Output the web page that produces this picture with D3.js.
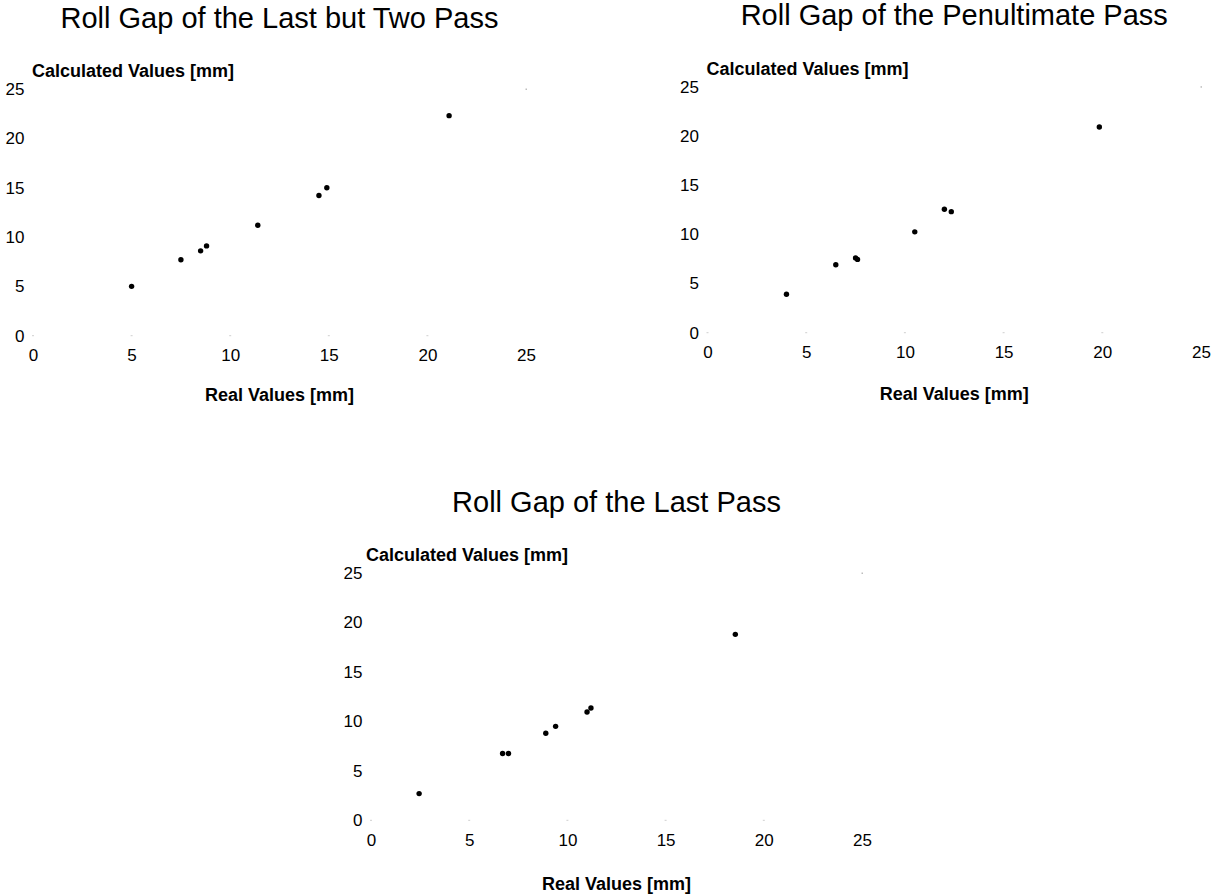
<!DOCTYPE html>
<html>
<head>
<meta charset="utf-8">
<title>Roll Gap</title>
<script src="https://cdn.jsdelivr.net/npm/d3@7"></script>
<style>
	body { margin: 0; background: #ffffff; }
	svg text { font-family: "Liberation Sans", Arial, Helvetica, sans-serif; fill: #000; }
</style>
</head>
<body>
<main></main>
<script>

// DATA
const titles = ["Roll Gap of the Last but Two Pass", "Roll Gap of the Penultimate Pass", "Roll Gap of the Last Pass"];
const xAxisLabel = "Real Values [mm]";
const yAxisLabel = "Calculated Values [mm]";
const tickValues = [0, 5, 10, 15, 20, 25];
const markValues = [0, 5, 10, 15, 20];

// last but two pass
const realLastButTwo = [5.0, 7.5, 8.5, 8.8, 11.4, 14.5, 14.9, 21.1];
const calcLastButTwo = [5.0, 7.7, 8.6, 9.1, 11.2, 14.2, 15.0, 22.3];
// penultimate pass
const realPenultimate = [4.0, 6.5, 7.5, 7.6, 10.5, 12.0, 12.35, 19.85];
const calcPenultimate = [3.9, 6.9, 7.6, 7.45, 10.25, 12.55, 12.3, 20.9];
// last pass
const realLast = [2.45, 6.7, 7.0, 8.9, 9.4, 11.0, 11.2, 18.55];
const calcLast = [2.7, 6.75, 6.75, 8.8, 9.5, 10.95, 11.35, 18.8];


// LAYOUT: pixel frame of each panel (value 0 and 25 on each axis)
const panels = [
	{ title: titles[0], real: realLastButTwo, calc: calcLastButTwo,
	  left: 33, right: 526, bottom: 335.7, top: 89, titleY: 28, xTickGap: 19, xLabelY: 400.5, yLabelDx: -1 },
	{ title: titles[1], real: realPenultimate, calc: calcPenultimate,
	  left: 707.5, right: 1201, bottom: 332.7, top: 86.7, titleY: 25, xTickGap: 19, xLabelY: 399.5, yLabelDx: -1 },
	{ title: titles[2], real: realLast, calc: calcLast,
	  left: 371, right: 862, bottom: 820.3, top: 573, titleY: 512, xTickGap: 20, xLabelY: 889.5, yLabelDx: -5 }
];


// DRAW one scatter panel
function drawPanel(svg, p) {
	const xScale = d3.scaleLinear().domain([0, 25]).range([p.left, p.right]);
	const yScale = d3.scaleLinear().domain([0, 25]).range([p.bottom, p.top]);
	const g = svg.append("g");

	// title
	g.append("text")
		.attr("x", (p.left + p.right) / 2)
		.attr("y", p.titleY)
		.attr("text-anchor", "middle")
		.style("font-size", "29px")
		.text(p.title);

	// faint marks along the base line and the top right corner
	g.selectAll("rect.mark")
		.data(markValues)
		.enter()
		.append("rect")
			.attr("class", "mark")
			.attr("x", d => xScale(d) - 1)
			.attr("y", yScale(0) - 0.5)
			.attr("width", 2)
			.attr("height", 1)
			.attr("fill", "#cfcfcf");
	g.append("rect")
		.attr("x", xScale(25) - 0.5)
		.attr("y", yScale(25) - 0.5)
		.attr("width", 1.5)
		.attr("height", 1.5)
		.attr("fill", "#bdbdbd");

	// axes (labels only)
	const xAxis = d3.axisBottom(xScale).tickValues(tickValues).tickSize(0).tickPadding(p.xTickGap - 6);
	g.append("g")
		.attr("transform", `translate(0, ${p.bottom})`)
		.call(xAxis)
		.call(a => a.select(".domain").remove())
		.selectAll("text")
			.style("font-size", "17px")
			.style("font-family", "'Liberation Sans', Arial, sans-serif")
			.attr("fill", "#000");
	const yAxis = d3.axisLeft(yScale).tickValues(tickValues).tickSize(0).tickPadding(8.5);
	g.append("g")
		.attr("transform", `translate(${p.left}, 0)`)
		.call(yAxis)
		.call(a => a.select(".domain").remove())
		.selectAll("text")
			.style("font-size", "17px")
			.style("font-family", "'Liberation Sans', Arial, sans-serif")
			.attr("fill", "#000");

	// axis titles
	g.append("text")
		.attr("x", p.left + p.yLabelDx)
		.attr("y", p.top - 12)
		.style("font-size", "18px")
		.style("font-weight", "bold")
		.text(yAxisLabel);
	g.append("text")
		.attr("x", (p.left + p.right) / 2)
		.attr("y", p.xLabelY)
		.attr("text-anchor", "middle")
		.style("font-size", "18px")
		.style("font-weight", "bold")
		.text(xAxisLabel);

	// points
	g.selectAll("circle")
		.data(p.real.map((r, i) => [r, p.calc[i]]))
		.enter()
		.append("circle")
			.attr("cx", d => xScale(d[0]))
			.attr("cy", d => yScale(d[1]))
			.attr("r", 2.7)
			.attr("fill", "#000");
}


// MAIN
document.addEventListener("DOMContentLoaded", () => {
	const svg = d3.select("main").append("svg")
		.attr("width", 1213)
		.attr("height", 894)
		.style("display", "block")
		.style("background-color", "#ffffff");
	panels.forEach(p => drawPanel(svg, p));
});
</script>
</body>
</html>
